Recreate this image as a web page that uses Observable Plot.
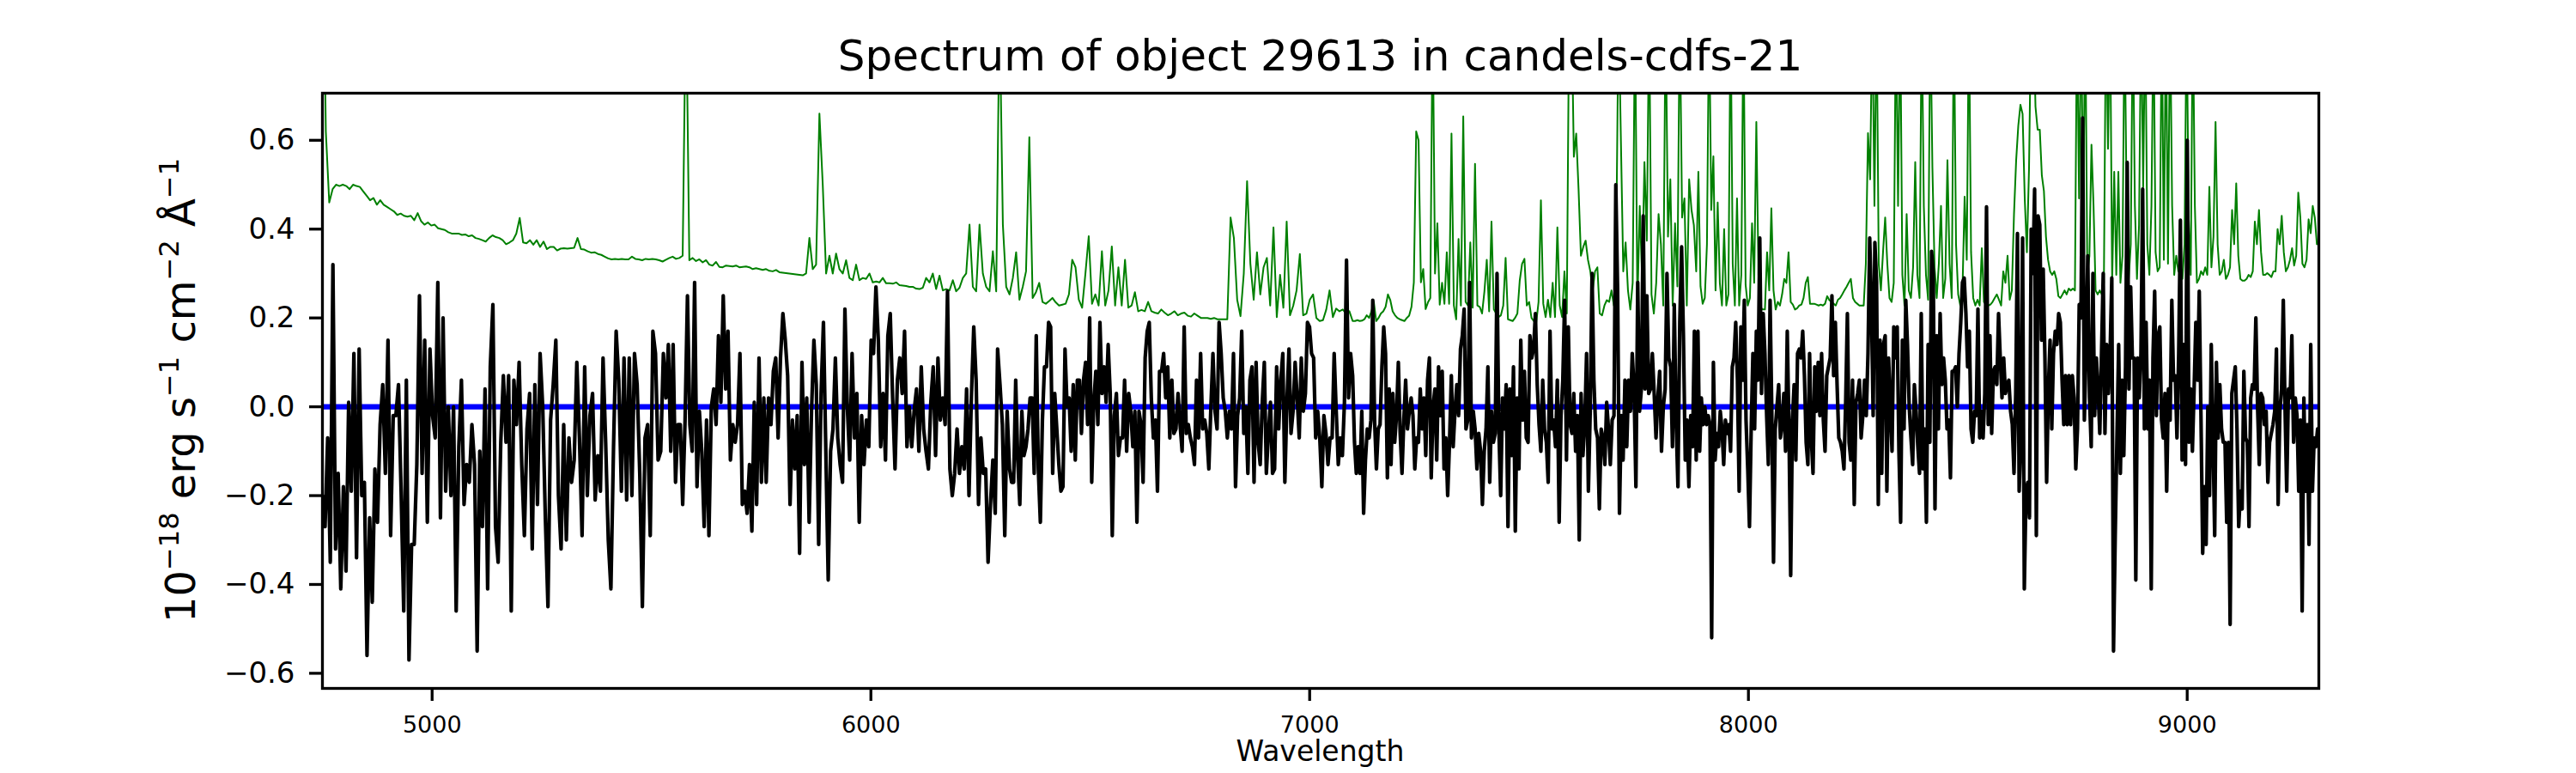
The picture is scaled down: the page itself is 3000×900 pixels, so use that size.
<!DOCTYPE html>
<html>
<head>
<meta charset="utf-8">
<script src="https://cdn.jsdelivr.net/npm/d3@7"></script>
<script src="https://cdn.jsdelivr.net/npm/@observablehq/plot@0.6"></script>
<style>
  html, body { margin: 0; padding: 0; background: #fff; }
  #chart svg { display: block; }
</style>
</head>
<body>
<div id="chart"></div>
<script>
// ---- Data ----
const titleText = "Spectrum of object 29613 in candels-cdfs-21";
const xLabelText = "Wavelength";
const xTicks = [5000, 6000, 7000, 8000, 9000];
const yTicks = [-0.6, -0.4, -0.2, 0.0, 0.2, 0.4, 0.6];
const xDomain = [4750, 9300];
const yDomain = [-0.634, 0.706];
// wavelength edges of the six sampled stretches (Å)
const segEdges = [4750, 5533, 6316, 7098, 7881, 8664, 9305];
const modelLevel = [0];

// object flux (black), one array per stretch
const flux1 = [-0.20,-0.27,-0.07,-0.35,0.32,-0.32,-0.15,-0.41,-0.18,-0.37,0.01,-0.19,0.12,-0.34,0.13,-0.20,-0.17,-0.56,-0.25,-0.44,-0.14,-0.26,-0.04,0.05,-0.15,0.15,-0.29,-0.02,-0.02,0.05,-0.19,-0.46,0.06,-0.57,-0.31,-0.31,-0.13,0.25,-0.15,0.15,-0.26,0.13,-0.02,-0.07,0.28,-0.25,0.20,-0.19,0.00,-0.20,0.00,-0.46,-0.09,0.06,-0.22,-0.13,-0.17,-0.04,-0.13,-0.55,-0.10,-0.27,0.04,-0.41,0.09,0.23,-0.27,-0.35,-0.08,0.07,-0.08,0.07,-0.46,0.06,-0.04,0.10,-0.13,-0.29,-0.05,0.03,-0.32,0.05,-0.22,0.12,0.00,-0.25,-0.45,-0.03,0.05,0.15,-0.20,-0.32,-0.04,-0.30,-0.07,-0.17,-0.12,0.10,-0.07,-0.29,0.09,-0.20,-0.02,0.03,-0.21,-0.11,-0.19,0.11,-0.08,-0.30,-0.41,-0.09,0.17,0.06,-0.19,0.11,-0.21,0.11,-0.20,0.12,0.05,-0.15,-0.45,-0.07,-0.04,-0.29,0.17,0.12,-0.12,-0.10,0.12];
const flux2 = [0.02,0.14,-0.10,0.14,-0.17,-0.04,-0.04,-0.22,-0.03,0.25,-0.04,-0.10,0.28,-0.18,-0.01,-0.10,-0.27,-0.03,-0.29,0.00,0.04,-0.04,0.16,0.01,0.25,0.04,0.17,-0.12,-0.04,-0.08,-0.04,0.12,-0.22,-0.19,-0.24,-0.13,-0.28,0.01,-0.22,0.11,-0.17,0.02,-0.17,0.02,-0.04,0.08,0.11,-0.07,0.11,0.21,0.15,0.07,-0.22,-0.03,-0.14,-0.02,-0.33,0.10,-0.13,0.02,-0.26,-0.01,0.15,0.05,-0.31,0.03,0.19,-0.10,-0.39,-0.10,-0.05,0.11,-0.07,-0.13,-0.17,0.22,0.00,-0.12,0.12,-0.07,0.03,-0.26,-0.02,-0.13,-0.03,-0.09,0.15,0.12,0.27,0.15,-0.09,0.03,-0.12,0.16,0.21,0.02,-0.14,0.06,0.11,0.03,0.17,-0.09,0.00,-0.09,-0.01,0.04,-0.10,0.09,-0.05,-0.10,-0.14,0.01,0.09,-0.11,0.11,-0.03,0.02,-0.04,0.26,-0.14,-0.20,-0.15,-0.05,-0.15,-0.09,-0.14,0.04,-0.20,0.02,0.18,0.06,-0.22,-0.07,-0.15,-0.14,-0.35,-0.22,-0.12,-0.24,0.13,0.05,-0.04,-0.29,-0.01];
const flux3 = [-0.14,-0.17,-0.17,0.06,-0.12,-0.22,-0.01,-0.11,-0.09,-0.05,0.02,0.02,-0.15,0.16,-0.14,-0.26,-0.03,0.09,0.09,0.19,0.18,-0.15,0.03,-0.05,-0.13,-0.19,-0.18,0.13,0.00,0.02,-0.10,0.05,-0.12,0.06,0.06,-0.06,0.06,0.10,-0.04,0.20,-0.17,0.01,0.08,-0.04,0.19,0.03,0.09,0.01,0.14,0.03,-0.29,-0.02,0.03,-0.11,-0.07,-0.07,0.06,-0.10,0.03,-0.01,-0.09,-0.01,-0.26,-0.01,-0.04,-0.17,0.11,0.17,0.19,0.02,-0.07,-0.03,-0.19,0.08,0.08,0.12,0.02,0.09,-0.07,0.06,-0.06,-0.05,0.03,-0.04,-0.10,0.18,-0.06,-0.04,-0.07,-0.09,-0.13,0.06,-0.07,0.12,-0.05,-0.03,-0.06,-0.14,0.00,0.12,-0.01,-0.05,0.19,0.12,0.02,-0.01,-0.07,-0.01,-0.05,0.12,-0.18,-0.02,0.02,0.17,-0.06,0.00,-0.15,0.06,0.09,-0.17,0.10,-0.08,-0.13,0.01,0.10,-0.15,-0.06,0.01,-0.15,-0.14,0.09,-0.05,0.06,0.12,-0.17,0.01,0.13,-0.06,-0.01,0.10,0.02,-0.07,0.11,-0.01,0.03,0.19,0.18,0.12,0.11,-0.07,-0.01,-0.07,-0.18,-0.02,-0.06,-0.13,-0.07,-0.07,0.12,-0.01,-0.13,-0.07,-0.11,0.01,0.33,0.02,0.12];
const flux4 = [0.07,-0.08,-0.15,-0.09,-0.15,-0.01,-0.24,-0.12,-0.05,-0.07,-0.03,0.24,-0.03,-0.14,-0.05,-0.04,0.09,0.18,0.12,-0.16,0.04,-0.13,0.03,-0.08,-0.02,0.10,-0.06,-0.15,-0.03,0.06,-0.05,-0.01,0.02,-0.02,-0.14,-0.07,-0.08,0.04,-0.05,0.02,-0.11,0.06,0.11,-0.16,0.00,0.04,-0.12,0.09,-0.02,0.08,-0.14,-0.07,-0.20,-0.08,0.07,-0.09,-0.01,0.05,-0.02,0.13,0.16,0.22,-0.05,-0.03,0.28,-0.07,-0.01,-0.05,-0.14,-0.06,-0.10,-0.22,-0.10,-0.05,0.09,-0.17,-0.01,-0.08,-0.06,0.30,-0.05,-0.20,0.02,-0.05,0.05,-0.27,0.04,-0.11,0.09,-0.28,0.02,-0.14,0.15,-0.03,0.08,-0.07,-0.08,0.16,0.11,0.13,0.21,0.05,-0.04,-0.10,0.06,-0.05,-0.08,-0.17,0.17,-0.05,-0.03,-0.09,0.06,-0.26,-0.02,0.06,0.24,-0.12,0.18,-0.04,-0.06,0.03,-0.10,-0.02,-0.30,0.03,-0.11,-0.04,0.12,-0.19,-0.01,0.30,0.06,-0.05,-0.07,-0.23,-0.05,-0.07,-0.13,0.01,-0.05,-0.13,-0.03,-0.02,0.50,0.26,-0.24,-0.02,-0.12,0.06,-0.09,0.06,-0.01,0.12,0.04,-0.18,0.28,-0.01,0.04,0.43,0.04,0.25,0.03,0.04,0.12,0.03,-0.07,0.02,0.08,-0.10,0.00,0.04,0.30,0.11,0.09,-0.09,0.23,-0.03,-0.18,0.19,0.36,0.16,-0.12,-0.03,-0.18,-0.02,-0.09,0.17];
const flux5 = [-0.12,0.17,-0.10,0.02,-0.04,0.00,-0.04,-0.02,-0.04,-0.52,0.10,-0.12,-0.06,-0.09,-0.01,-0.05,-0.13,-0.03,-0.06,-0.04,-0.10,0.09,0.11,0.19,0.06,-0.19,0.18,0.06,0.24,-0.03,-0.14,-0.27,-0.05,0.12,-0.05,0.17,0.06,0.38,0.03,0.21,0.12,-0.02,-0.13,0.24,-0.01,-0.35,-0.05,0.00,0.05,-0.07,-0.04,0.03,-0.10,0.17,-0.05,-0.38,-0.03,0.05,-0.12,0.12,0.13,0.11,0.17,0.07,-0.08,-0.13,0.12,-0.07,-0.15,0.09,-0.01,0.10,-0.02,0.12,-0.03,-0.10,0.07,0.09,0.11,0.25,0.07,0.19,0.05,-0.07,-0.08,-0.10,-0.14,0.01,0.21,-0.08,-0.12,0.06,-0.22,0.01,0.03,0.06,-0.07,-0.02,0.06,-0.02,0.12,0.38,0.23,-0.02,0.37,0.28,-0.22,0.15,-0.15,0.14,0.16,-0.19,0.11,0.00,-0.10,0.18,0.11,0.18,-0.10,-0.26,0.15,-0.05,0.24,0.14,0.00,-0.07,-0.13,0.05,-0.01,-0.09,-0.15,0.21,-0.14,-0.05,-0.26,0.14,-0.08,0.35,0.30,-0.23,0.16,-0.05,0.21,0.05,0.11,0.06,-0.05,-0.03,-0.16,0.08,0.08,0.09,0.00,0.12,0.19,0.28,0.29,0.21,0.09,0.17,-0.05,-0.08,-0.01,-0.02,0.22,-0.07,-0.01,-0.07,0.03,0.45,-0.04,0.16,-0.06,0.08,0.09,0.05,0.21,0.11,0.02,0.11,0.03,0.05,0.06,-0.01,-0.04,-0.15,0.03,0.39,-0.19,-0.07,0.38,-0.41,-0.19,-0.17,-0.25,0.40,0.30,0.49,-0.29,0.43];
const flux6 = [0.41,0.15,0.31,0.11,-0.17,0.04,0.15,-0.05,0.12,0.17,0.14,0.21,0.19,0.06,-0.04,0.07,-0.04,0.07,-0.04,0.07,0.02,-0.14,-0.05,0.23,0.20,0.65,-0.03,0.13,0.34,0.02,-0.09,0.30,-0.02,0.11,0.04,-0.06,0.12,0.30,-0.06,0.14,0.03,0.12,0.29,-0.55,-0.29,-0.07,0.14,-0.15,0.06,-0.11,0.09,0.55,0.04,0.27,0.11,0.11,-0.39,0.11,0.02,0.12,0.49,-0.05,0.19,-0.05,0.06,-0.41,0.11,0.26,-0.02,0.16,0.18,-0.03,-0.07,0.03,-0.19,0.04,-0.03,0.24,0.06,0.07,-0.07,0.12,0.42,-0.12,0.14,-0.13,0.60,-0.08,0.04,-0.10,0.04,0.19,0.06,0.26,-0.02,-0.33,-0.18,-0.31,0.00,-0.20,0.14,-0.07,-0.29,0.10,-0.07,0.05,-0.05,-0.08,-0.08,-0.26,-0.08,-0.49,0.03,0.06,0.09,-0.05,-0.27,-0.19,-0.23,0.08,-0.07,-0.08,-0.27,0.02,0.05,0.04,0.20,0.00,-0.13,0.03,0.02,-0.04,-0.01,-0.17,-0.08,-0.06,-0.04,-0.01,0.13,-0.22,-0.01,0.04,0.24,0.00,-0.19,0.04,0.02,0.16,-0.08,0.02,-0.02,-0.19,-0.03,-0.46,0.02,-0.19,-0.04,-0.31,0.14,-0.19,-0.07,-0.09,-0.05,-0.08];

// noise / sky spectrum (green), one array per stretch
const sky1 = [1.2,0.62,0.46,0.49,0.50,0.497,0.50,0.497,0.49,0.50,0.497,0.495,0.485,0.475,0.465,0.47,0.455,0.465,0.455,0.45,0.445,0.44,0.432,0.435,0.43,0.428,0.43,0.42,0.436,0.418,0.41,0.415,0.408,0.41,0.402,0.40,0.398,0.393,0.39,0.39,0.39,0.387,0.388,0.384,0.386,0.38,0.378,0.375,0.372,0.38,0.386,0.382,0.38,0.375,0.366,0.37,0.375,0.39,0.425,0.37,0.368,0.375,0.365,0.375,0.36,0.372,0.355,0.36,0.36,0.352,0.356,0.357,0.356,0.357,0.358,0.38,0.355,0.354,0.35,0.347,0.348,0.344,0.342,0.338,0.334,0.332,0.333,0.332,0.333,0.332,0.332,0.338,0.333,0.332,0.33,0.333,0.332,0.333,0.332,0.330,0.327];
const sky2 = [0.331,0.335,0.338,0.333,0.335,0.34,0.95,0.33,0.335,0.328,0.332,0.325,0.33,0.32,0.318,0.326,0.315,0.314,0.318,0.317,0.316,0.318,0.314,0.315,0.316,0.314,0.31,0.312,0.31,0.308,0.31,0.306,0.305,0.308,0.303,0.302,0.301,0.30,0.299,0.298,0.297,0.296,0.30,0.38,0.31,0.32,0.66,0.50,0.30,0.34,0.30,0.345,0.31,0.30,0.33,0.29,0.285,0.32,0.285,0.29,0.288,0.30,0.28,0.282,0.28,0.29,0.278,0.278,0.277,0.28,0.274,0.273,0.272,0.27,0.27,0.266,0.265,0.268,0.29,0.28,0.30,0.265,0.295,0.262,0.265,0.262,0.285,0.26,0.268,0.29,0.30,0.41,0.27,0.26,0.41,0.30,0.27,0.26,0.35,0.26,0.90,0.41,0.27];
const sky3 = [0.253,0.29,0.348,0.241,0.27,0.305,0.607,0.245,0.258,0.279,0.236,0.232,0.238,0.245,0.235,0.228,0.23,0.232,0.253,0.331,0.314,0.241,0.223,0.30,0.384,0.232,0.253,0.228,0.350,0.228,0.262,0.361,0.228,0.314,0.228,0.331,0.223,0.228,0.258,0.215,0.218,0.215,0.236,0.215,0.212,0.210,0.219,0.212,0.206,0.21,0.215,0.206,0.21,0.212,0.205,0.203,0.21,0.205,0.20,0.20,0.20,0.198,0.20,0.197,0.197,0.197,0.197,0.426,0.38,0.241,0.204,0.30,0.508,0.322,0.241,0.348,0.253,0.314,0.335,0.228,0.404,0.202,0.297,0.223,0.417,0.206,0.228,0.262,0.344,0.206,0.210,0.241,0.253,0.20,0.193,0.195,0.219,0.262,0.202,0.221,0.215,0.219,0.210,0.215];
const sky4 = [0.193,0.193,0.195,0.193,0.194,0.197,0.206,0.20,0.215,0.236,0.193,0.20,0.21,0.215,0.225,0.253,0.24,0.215,0.206,0.20,0.197,0.195,0.193,0.20,0.205,0.225,0.28,0.62,0.60,0.28,0.31,0.22,0.235,0.245,0.9,0.30,0.413,0.23,0.279,0.232,0.348,0.232,0.615,0.228,0.197,0.378,0.228,0.654,0.236,0.228,0.37,0.223,0.547,0.228,0.225,0.210,0.26,0.331,0.215,0.417,0.219,0.21,0.202,0.206,0.228,0.335,0.197,0.195,0.193,0.20,0.21,0.284,0.322,0.333,0.228,0.236,0.20,0.193,0.189,0.236,0.465,0.232,0.202,0.241,0.202,0.279,0.202,0.404,0.228,0.202,0.305,0.21,0.9,0.9,0.563,0.615,0.49,0.34,0.36,0.374,0.331,0.305,0.262,0.305,0.314,0.21,0.206,0.228,0.24,0.236,0.262,0.228,0.366,0.9,0.598,0.305,0.370,0.262,0.219,0.279,0.9,0.228,0.452,0.288,0.551,0.374,0.9,0.253,0.21,0.279,0.434,0.366,0.228,0.9,0.383,0.512,0.228,0.413,0.271,0.9,0.426,0.469,0.228,0.512,0.443,0.409];
const sky5 = [0.305,0.529,0.271,0.232,0.245,0.366,0.9,0.443,0.564,0.262,0.46,0.279,0.228,0.40,0.228,0.253,0.9,0.322,0.228,0.469,0.228,0.297,0.9,0.275,0.228,0.245,0.413,0.279,0.641,0.297,0.223,0.219,0.219,0.348,0.262,0.447,0.262,0.219,0.236,0.228,0.253,0.288,0.279,0.348,0.236,0.23,0.219,0.222,0.228,0.23,0.245,0.279,0.292,0.232,0.232,0.232,0.23,0.228,0.23,0.228,0.232,0.249,0.24,0.236,0.232,0.228,0.241,0.245,0.253,0.262,0.27,0.279,0.288,0.245,0.236,0.232,0.228,0.228,0.228,0.322,0.616,0.512,0.9,0.452,0.9,0.322,0.262,0.348,0.426,0.322,0.245,0.236,0.279,0.9,0.452,0.9,0.297,0.228,0.434,0.262,0.245,0.314,0.551,0.297,0.245,0.9,0.452,0.297,0.241,0.9,0.538,0.314,0.245,0.322,0.452,0.245,0.288,0.555,0.322,0.245,0.9,0.366,0.253,0.228,0.262,0.473,0.331,0.9,0.348,0.245,0.228,0.241,0.228,0.357,0.236,0.23,0.228,0.23,0.236,0.245,0.253,0.241,0.228,0.305,0.279,0.34,0.241,0.262,0.434,0.555,0.633,0.68,0.659,0.469,0.348,0.538,0.9,0.9,0.676,0.624];
const sky6 = [0.624,0.521,0.486,0.383,0.331,0.305,0.297,0.305,0.288,0.249,0.245,0.253,0.262,0.253,0.266,0.262,0.266,0.262,0.9,0.469,0.9,0.426,0.9,0.297,0.34,0.59,0.452,0.262,0.253,0.262,0.253,0.279,0.9,0.581,0.9,0.279,0.529,0.297,0.529,0.279,0.34,0.9,0.452,0.288,0.366,0.9,0.452,0.288,0.409,0.9,0.495,0.9,0.366,0.297,0.452,0.9,0.348,0.305,0.314,0.9,0.331,0.9,0.322,0.9,0.452,0.297,0.34,0.305,0.322,0.288,0.366,0.9,0.426,0.297,0.9,0.452,0.279,0.288,0.305,0.297,0.314,0.297,0.495,0.314,0.383,0.641,0.366,0.297,0.305,0.331,0.288,0.297,0.314,0.443,0.366,0.503,0.34,0.288,0.284,0.284,0.288,0.297,0.292,0.305,0.417,0.366,0.443,0.348,0.297,0.297,0.301,0.297,0.292,0.305,0.305,0.40,0.366,0.43,0.348,0.305,0.314,0.331,0.357,0.318,0.34,0.482,0.426,0.322,0.314,0.331,0.422,0.391,0.452,0.426,0.366,0.366];

// ---- assemble tables (wavelength spread evenly across each stretch) ----
function stretch(i, vals) {
  const w0 = segEdges[i], w1 = segEdges[i + 1];
  const step = (w1 - w0) / vals.length;
  return vals.map((f, k) => ({w: w0 + k * step, f}));
}
const fluxRows = [flux1, flux2, flux3, flux4, flux5, flux6].flatMap((a, i) => stretch(i, a));
const skyRows = [sky1, sky2, sky3, sky4, sky5, sky6].flatMap((a, i) => stretch(i, a));

const W = 3000, H = 900;
const mL = 375, mR = 300, mT = 108, mB = 99;

const svg = Plot.plot({
  width: W, height: H,
  marginLeft: mL, marginRight: mR, marginTop: mT, marginBottom: mB,
  style: {fontFamily: "DejaVu Sans", color: "black", background: "white", overflow: "visible"},
  x: {domain: xDomain},
  y: {domain: yDomain},
  marks: [
    Plot.lineY(skyRows, {x: "w", y: "f", stroke: "#008000", strokeWidth: 2, clip: true}),
    Plot.ruleY(modelLevel, {stroke: "#0000ff", strokeWidth: 6.25}),
    Plot.lineY(fluxRows, {x: "w", y: "f", stroke: "#000000", strokeWidth: 4.2, strokeLinejoin: "round", clip: true}),
    Plot.frame({stroke: "black", strokeWidth: 3.3}),
    Plot.axisX(xTicks, {tickSize: 15, tickPadding: 17, fontSize: 27, strokeWidth: 3.3, label: null, tickFormat: d3.format("d")}),
    Plot.axisY(yTicks, {tickSize: 15, tickPadding: 17, fontSize: 34, strokeWidth: 3.3, label: null, tickFormat: d3.format(".1f")})
  ]
});

const sel = d3.select(svg);
const cx = mL + (W - mL - mR) / 2;
sel.append("text")
  .attr("x", cx).attr("y", 82)
  .attr("text-anchor", "middle")
  .attr("font-family", "DejaVu Sans").attr("font-size", 50).attr("fill", "black")
  .text(titleText);
sel.append("text")
  .attr("x", cx).attr("y", 886)
  .attr("text-anchor", "middle")
  .attr("font-family", "DejaVu Sans").attr("font-size", 33).attr("fill", "black")
  .text(xLabelText);

// y label with superscripts
const yl = sel.append("text")
  .attr("transform", `translate(227,${mT + (H - mT - mB) / 2}) rotate(-90)`)
  .attr("text-anchor", "middle")
  .attr("font-family", "DejaVu Sans").attr("font-size", 48).attr("fill", "black");
const parts = [
  ["10", false], ["\u221218", true], [" erg s", false], ["\u22121", true],
  [" cm", false], ["\u22122", true], [" \u00C5", false], ["\u22121", true]
];
let raised = false;
for (const [t, sup] of parts) {
  const ts = yl.append("tspan").text(t);
  if (sup) { ts.attr("font-size", 32).attr("dy", raised ? 0 : -19); raised = true; }
  else { if (raised) ts.attr("dy", 19); raised = false; }
}

document.getElementById("chart").appendChild(svg);
</script>
</body>
</html>
